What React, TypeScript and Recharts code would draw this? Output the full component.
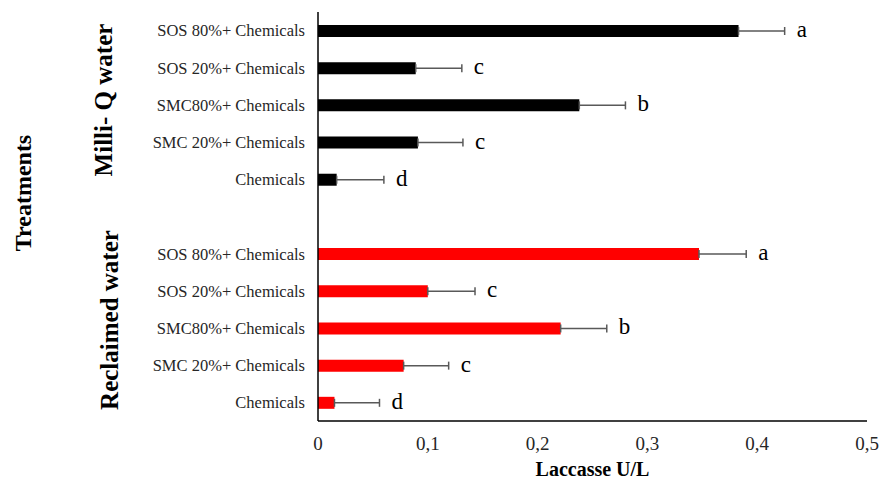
import {
  Bar,
  BarChart,
  Cell,
  Customized,
  ErrorBar,
  LabelList,
  XAxis,
  YAxis,
} from "recharts";

const treatments = [
  "SOS 80%+ Chemicals",
  "SOS 20%+ Chemicals",
  "SMC80%+ Chemicals",
  "SMC 20%+ Chemicals",
  "Chemicals",
];
const milliQValues = [0.383, 0.089, 0.238, 0.091, 0.017];
const milliQErrors = [0.042, 0.042, 0.042, 0.041, 0.043];
const milliQLetters = ["a", "c", "b", "c", "d"];
const reclaimedValues = [0.347, 0.1, 0.221, 0.078, 0.015];
const reclaimedErrors = [0.043, 0.043, 0.042, 0.041, 0.041];
const reclaimedLetters = ["a", "c", "b", "c", "d"];
const xTicks = [0, 0.1, 0.2, 0.3, 0.4, 0.5];

const SERIF = '"Liberation Serif", "Times New Roman", serif';

type Row = {
  idx: number;
  label: string;
  value?: number;
  err?: [number, number];
  errSize?: number;
  letter?: string;
  color?: string;
};

const rows: Row[] = [
  ...treatments.map((t, i) => ({
    label: t,
    value: milliQValues[i],
    err: [0, milliQErrors[i]] as [number, number],
    errSize: milliQErrors[i],
    letter: milliQLetters[i],
    color: "#000000",
  })),
  { label: "" },
  ...treatments.map((t, i) => ({
    label: t,
    value: reclaimedValues[i],
    err: [0, reclaimedErrors[i]] as [number, number],
    errSize: reclaimedErrors[i],
    letter: reclaimedLetters[i],
    color: "#ff0000",
  })),
].map((r, i) => ({ ...r, idx: i }));

// letter sits just right of the error bar cap
function LetterLabel(props: any) {
  const { x, y, width, height, value } = props;
  const row = rows[Number(value)];
  if (!row || row.value == null || !row.letter) return null;
  const pxPerUnit = Number(width) / row.value;
  const capX = Number(x) + Number(width) + pxPerUnit * (row.errSize || 0);
  return (
    <text
      x={capX + 12}
      y={Number(y) + Number(height) / 2 + 6}
      fontFamily={SERIF}
      fontSize={23}
      fill="#000"
    >
      {row.letter}
    </text>
  );
}

function GroupTitles() {
  const rot = (x: number, y: number) => `rotate(-90 ${x} ${y})`;
  return (
    <g fontFamily={SERIF} fontWeight="bold" fill="#000">
      <text x={31} y={193} transform={rot(31, 193)} textAnchor="middle" fontSize={24}>
        Treatments
      </text>
      <text x={112} y={100} transform={rot(112, 100)} textAnchor="middle" fontSize={25}>
        Milli- Q water
      </text>
      <text x={118} y={320} transform={rot(118, 320)} textAnchor="middle" fontSize={25}>
        Reclaimed water
      </text>
    </g>
  );
}

export default function App() {
  return (
    <div style={{ position: "absolute", left: 0, top: 0, width: 880, height: 479, background: "#fff" }}>
      <BarChart
        width={880}
        height={479}
        data={rows}
        layout="vertical"
        margin={{ top: 12, right: 13, left: 0, bottom: 0 }}
      >
        <XAxis
          type="number"
          domain={[0, 0.5]}
          ticks={xTicks}
          tickFormatter={(v: number) => String(v).replace(".", ",")}
          tickLine={false}
          tickSize={0}
          tickMargin={16}
          height={58}
          axisLine={{ stroke: "#000", strokeWidth: 1.5 }}
          tick={{ fontFamily: SERIF, fontSize: 19, fill: "#262626" }}
          label={{
            value: "Laccasse U/L",
            position: "insideBottom",
            offset: 3,
            style: { fontFamily: SERIF, fontSize: 20, fontWeight: "bold", fill: "#000" },
          }}
        />
        <YAxis
          type="category"
          dataKey="label"
          width={318}
          tickLine={false}
          tickSize={0}
          tickMargin={13}
          interval={0}
          axisLine={{ stroke: "#000", strokeWidth: 1.5 }}
          tick={{ fontFamily: SERIF, fontSize: 16.5, fill: "#262626" }}
        />
        <Bar dataKey="value" barSize={12} isAnimationActive={false}>
          {rows.map((r, i) => (
            <Cell key={i} fill={r.color || "transparent"} />
          ))}
          <ErrorBar
            dataKey="err"
            direction="x"
            width={4}
            stroke="#595959"
            strokeWidth={1.5}
          />
          <LabelList dataKey="idx" content={<LetterLabel />} />
        </Bar>
        <Customized component={<GroupTitles />} />
      </BarChart>
    </div>
  );
}
